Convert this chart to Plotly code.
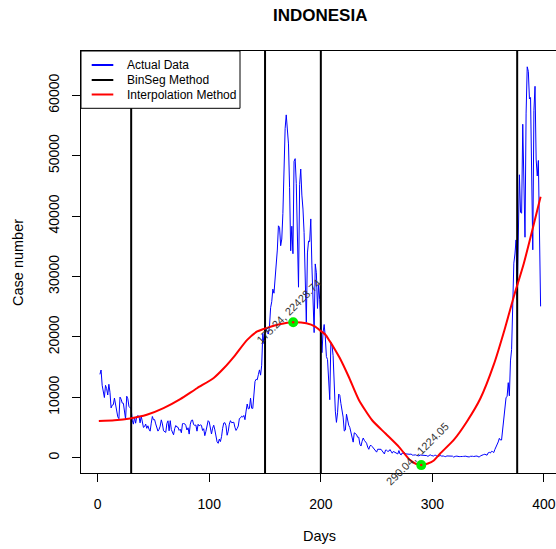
import plotly.graph_objects as go

# ---------------- data ----------------
jan21 = [13802, 14518, 12001]
feb21 = [10994, 9961, 11984, 11434, 10379, 12156, 10827, 8242, 8700, 8776,
         9869, 8844, 7789, 6765, 6462, 10029, 9687, 9039, 9014, 7300,
         6383, 10180, 9775, 8493, 8232, 8100, 6208, 5560]
mar21 = [6680, 5712, 6808, 6971, 6830, 5767, 6894, 5589, 5015, 5144,
         5576, 4862, 5282, 4714, 4396, 5720, 6825, 6279, 6312, 5593,
         4984, 4402, 4690, 5227, 6267, 5595, 4461, 4341, 4192, 5656, 6107]
apr21 = [4445, 6132, 4654, 4049, 3790, 4816, 5325, 5089, 5041, 4527,
         4715, 4131, 5633, 5656, 5612, 5324, 4585, 4952, 3909, 5549,
         6177, 6243, 5475, 5357, 5411, 4393, 5535, 5241, 5444, 5360]
may21 = [4512, 4801, 3648, 4369, 5285, 6130, 5921, 4485, 3922, 4891,
         5383, 4608, 3448, 2633, 2385, 3080, 2668, 3480, 4871, 5746,
         5797, 5296, 3718, 4384, 5560, 6130, 5797, 5862, 5868, 5040, 4515]
jun21 = [4824, 5246, 6486, 6594, 6868, 6724, 6993, 6294, 7725, 8892,
         8083, 8161, 9868, 8189, 8161, 9944, 12624, 12990, 12906, 13737,
         14536, 13668, 15308, 20574, 18872, 21095, 21342, 20694, 20467, 21807]
jul21 = [24836, 25830, 27913, 27233, 29745, 31189, 34379, 38391, 38124, 35094,
         36197, 40427, 47899, 54517, 56757, 54000, 51952, 44721, 34257, 38325,
         33772, 49071, 49509, 45416, 38679, 28228, 45203, 47791, 43479, 41168, 37284]
aug21 = [30738, 22404, 33900, 35867, 35764, 39532, 31753, 26415, 20709, 32081,
         30625, 24709, 28598, 26150, 20813, 17384, 20741, 22053, 20004, 16744,
         16250, 12408, 9604, 19106, 18671, 16899, 11768, 7705, 5850, 7436, 10534]
sep21 = [10337, 8955, 7797, 6726, 4413, 4574, 7201, 5990, 5376, 5000,
         4167, 3779, 2577, 4128, 3948, 3835, 3385, 3385, 2234, 1932,
         2720, 3263, 2881, 2557, 2396, 1760, 1390, 1954, 2057, 1857]
oct21 = [1624, 1414, 1142, 922, 1404, 1393, 1357, 1384, 1111, 894,
         620, 1261, 1233, 1053, 1088, 1346, 915, 747, 1038, 914,
         760, 633, 623, 1180, 612, 460, 797, 612, 868, 633, 612]
nov21 = [514, 612, 561, 620, 417, 431, 474, 467, 373, 372,
         290, 444, 435, 400, 438, 366, 325, 348, 215, 361,
         480, 370, 339, 279, 390, 397, 278, 176, 267, 375]
dec21 = [277, 310, 272, 203, 181, 290, 268, 221, 221, 217,
         254, 106, 215, 248, 260, 192, 178, 190, 136, 204,
         221, 259, 254, 182, 92, 123, 227, 274, 237, 194, 274]
jan22 = [265, 274, 138, 92, 299, 404, 533, 522, 569, 529,
         414, 802, 892, 772, 1054, 1010, 855, 1362, 1745, 2116,
         2604, 3205, 2925, 2927, 4878, 7010, 8077, 9905, 10185, 12422, 10250]
feb22 = [16021, 17895, 27197, 32211, 33729, 36057, 26121, 37492, 46843, 40618,
         40489, 55209, 44526, 36501, 57049, 64718, 63956, 59384, 59635, 48484,
         34418, 57491, 61488, 49447, 46643, 49212, 34976, 25054]

cases = (jan21 + feb21 + mar21 + apr21 + may21 + jun21 + jul21 + aug21 +
         sep21 + oct21 + nov21 + dec21 + jan22 + feb22)
first_day = 2
days = list(range(first_day, first_day + len(cases)))

binseg_days = [30, 150, 200, 376]

interp_days = [1, 15, 29, 44, 59, 74, 89, 104, 113, 122, 134, 143, 152, 163,
               175.24, 187, 195, 199, 204, 208, 213, 217, 225, 234, 246, 258,
               270, 280, 285, 290.04, 296, 301, 307, 319, 331, 343, 355, 365,
               373, 382, 397]
interp_vals = [6070, 6200, 6500, 7100, 8200, 9700, 11500, 13200, 14800, 16700,
               19500, 20900, 21500, 22100, 22428.74, 22250, 21700, 21100, 20400,
               19300, 17800, 16500, 13400, 9600, 6200, 4000, 1800, -400, -1000,
               -1224.05, -950, -500, 700, 2900, 6000, 9800, 15400, 21400, 26700,
               32200, 43200]

key_days = [175.24, 290.04]
key_vals = [22428.74, -1224.05]

x_ticks = [0, 100, 200, 300, 400]
y_ticks = [0, 10000, 20000, 30000, 40000, 50000, 60000]
x_range = [-14.97, 410.8]
y_range = [-2533, 67334]

legend_items = [("Actual Data", "blue"), ("BinSeg Method", "black"),
                ("Interpolation Method", "red")]

FONT = "Liberation Sans, Arial, Helvetica, sans-serif"

# ---------------- figure ----------------
fig = go.Figure()

fig.add_trace(go.Scatter(x=days, y=cases, mode="lines",
                         line=dict(color="blue", width=1),
                         name="Actual Data", showlegend=False))

vx, vy = [], []
for b in binseg_days:
    vx += [b, b, None]
    vy += [y_range[0], y_range[1], None]
fig.add_trace(go.Scatter(x=vx, y=vy, mode="lines",
                         line=dict(color="black", width=2),
                         name="BinSeg Method", showlegend=False))

fig.add_trace(go.Scatter(x=interp_days, y=interp_vals, mode="lines",
                         line=dict(color="red", width=2, shape="spline", smoothing=0.6),
                         name="Interpolation Method", showlegend=False))

fig.add_trace(go.Scatter(x=key_days, y=key_vals, mode="markers",
                         marker=dict(color="#00ee00", size=10, line=dict(width=0)),
                         showlegend=False))
fig.add_trace(go.Scatter(x=key_days, y=key_vals, mode="markers",
                         marker=dict(color="red", size=2.5, line=dict(width=0)),
                         showlegend=False))

for d, v in zip(key_days, key_vals):
    fig.add_annotation(x=d, y=v, xref="x", yref="y",
                       text=f"{d:.2f}, {v:.2f}", showarrow=False,
                       textangle=-45, xshift=-4, yshift=11,
                       font=dict(family=FONT, size=11, color="#333333"))

# legend (drawn like R's legend box)
L, W, T, H = 81, 475, 51, 422
def px_x(p):
    return (p - L) / W
def px_y(p):
    return (T + H - p) / H

shapes = [dict(type="rect", xref="paper", yref="paper",
               x0=0, x1=px_x(240), y0=px_y(108.3), y1=1,
               line=dict(color="black", width=1), fillcolor="white", layer="above")]
row_y = [65, 80, 94.5]
for (label, col), ry in zip(legend_items, row_y):
    shapes.append(dict(type="line", xref="paper", yref="paper",
                       x0=px_x(91.7), x1=px_x(113.3), y0=px_y(ry), y1=px_y(ry),
                       line=dict(color=col, width=2), layer="above"))
    fig.add_annotation(x=px_x(125), y=px_y(ry), xref="paper", yref="paper",
                       text=label, showarrow=False, xanchor="left", yanchor="middle",
                       font=dict(family=FONT, size=12, color="black"))

fig.add_annotation(x=px_x(319.7), y=px_y(15), xref="paper", yref="paper",
                   text="<b>INDONESIA</b>", showarrow=False,
                   xanchor="center", yanchor="middle",
                   font=dict(family=FONT, size=17, color="black"))
fig.add_annotation(x=px_x(319.7), y=px_y(536), xref="paper", yref="paper",
                   text="Days", showarrow=False, xanchor="center", yanchor="middle",
                   font=dict(family=FONT, size=14.5, color="black"))
fig.add_annotation(x=px_x(18), y=0.5, xref="paper", yref="paper",
                   text="Case number", showarrow=False, textangle=-90,
                   xanchor="center", yanchor="middle",
                   font=dict(family=FONT, size=14.5, color="black"))

fig.update_layout(
    width=556, height=549,
    margin=dict(l=L, r=556 - L - W, t=T, b=549 - T - H, pad=0, autoexpand=False),
    plot_bgcolor="white", paper_bgcolor="white",
    shapes=shapes,
    showlegend=False,
    xaxis=dict(range=x_range, tickvals=x_ticks, ticktext=[str(t) for t in x_ticks],
               showgrid=False, zeroline=False, showline=True, mirror=True,
               linecolor="black", linewidth=1, ticks="outside", ticklen=8,
               tickcolor="black", tickwidth=1, ticklabelstandoff=10, automargin=False,
               tickfont=dict(family=FONT, size=14, color="black")),
    yaxis=dict(range=y_range, tickvals=y_ticks, ticktext=[str(t) for t in y_ticks],
               showgrid=False, zeroline=False, showline=True, mirror=False,
               linecolor="black", linewidth=1, ticks="outside", ticklen=8,
               tickcolor="black", tickwidth=1, tickangle=-90, ticklabelstandoff=7,
               automargin=False,
               tickfont=dict(family=FONT, size=14, color="black")),
)

fig.write_html("out.html",
               config={"displayModeBar": False, "staticPlot": True},
               post_script="document.body.style.margin='0';document.body.style.padding='0';"
                           "document.body.style.overflow='hidden';")
